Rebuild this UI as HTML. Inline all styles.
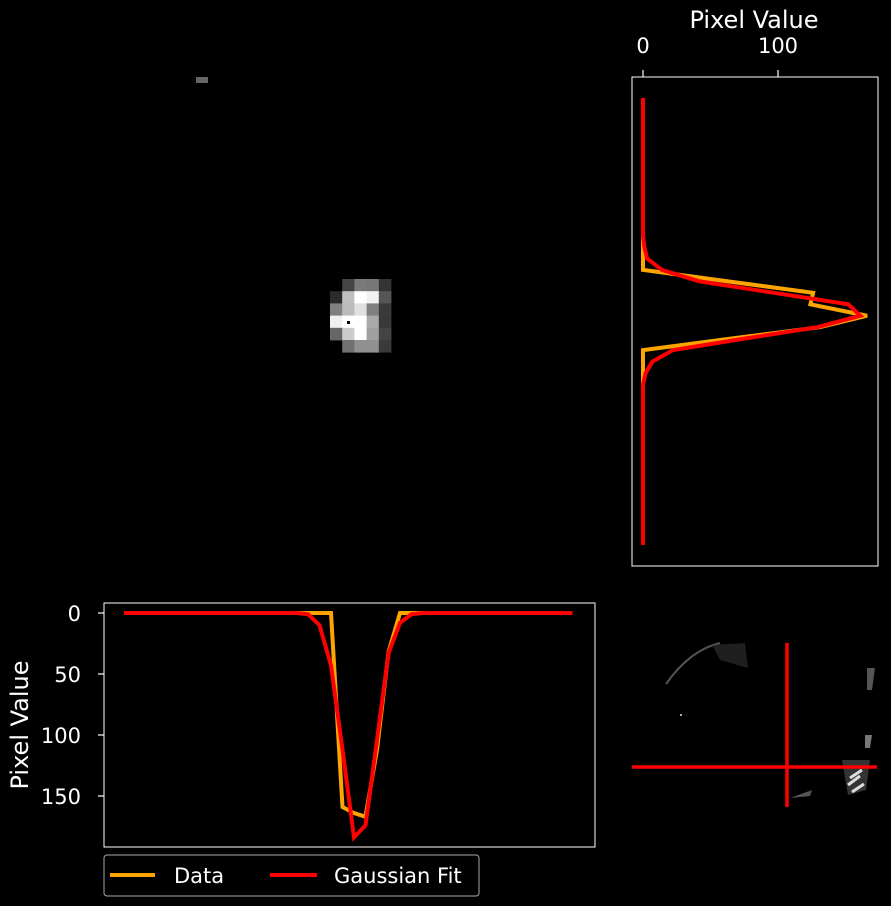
<!DOCTYPE html>
<html><head><meta charset="utf-8"><style>
html,body{margin:0;padding:0;background:#000;width:891px;height:906px;overflow:hidden}
svg{display:block;font-family:"DejaVu Sans","Liberation Sans",sans-serif}
</style></head><body>
<svg id="fig" width="891" height="906" viewBox="0 0 891 906">
<rect width="891" height="906" fill="#000"/>
<g id="main">
  <rect x="196" y="77" width="12" height="6" fill="#666"/>
  <g id="blob"></g>
  <rect x="347" y="321" width="3" height="3" fill="#000"/>
</g>
<g id="right"></g>
<g id="bottom"></g>
<g>
  <path d="M666,684 Q690,650 720,643" stroke="#777" stroke-width="2" fill="none" opacity="0.7"/>
  <path d="M712,645 L745,643 L748,668 L720,660Z" fill="#333" opacity="0.6"/>
  <path d="M867,668 L875,668 L872,690 L867,690Z" fill="#555"/>
  <path d="M865,735 L872,735 L870,748 L865,748Z" fill="#777"/>
  <path d="M842,760 L870,760 L866,790 L848,795Z" fill="#333"/>
  <path d="M850,778 L862,770 M848,785 L860,776 M852,792 L864,784" stroke="#ddd" stroke-width="3"/>
  <path d="M790,798 L812,790 L810,796Z" fill="#555"/>
  <rect x="680" y="714" width="2" height="2" fill="#aaa"/>
  <line x1="787" y1="643" x2="787" y2="807" stroke="#f00" stroke-width="3.5"/>
  <line x1="632" y1="767" x2="877" y2="767" stroke="#f00" stroke-width="3.5"/>
</g>
<g>
  <rect x="104" y="855" width="375" height="41" rx="3" fill="#000" stroke="#aaa" stroke-width="1"/>
  <line x1="110" y1="875" x2="155" y2="875" stroke="#ffa500" stroke-width="4"/>
  <text x="174" y="883" fill="#fff" font-size="21">Data</text>
  <line x1="270" y1="875" x2="317" y2="875" stroke="#f00" stroke-width="4"/>
  <text x="334" y="883" fill="#fff" font-size="21">Gaussian Fit</text>
</g>
</svg>
<script>
const blobShades=[
 [0,0x44,0x7a,0x77,0x33],
 [0x2a,0xc0,0xff,0xf2,0x55],
 [0x80,0xbb,0xe0,0x80,0x3a],
 [0xf0,0xff,0xff,0xaa,0x38],
 [0x66,0xcc,0xff,0xa0,0x44],
 [0,0x70,0x90,0x90,0x3a]];
const hIndex=[];for(let i=0;i<40;i++)hIndex.push(i);
const hData=[0,0,0,0,0,0,0,0,0,0,0,0,0,0,0,0,0,0,0,159,164,167,112,32,0,0,0,0,0,0,0,0,0,0,0,0,0,0,0,0];
const hFit=[0,0,0,0,0,0,0,0,0,0,0,0,0,0,0,0,1,10,43,112,184,174,104,33,8,1,0,0,0,0,0,0,0,0,0,0,0,0,0,0];
const vData=[0,0,0,0,0,0,0,0,0,0,0,0,0,0,0,0,63,126,124,166,131,65,0,0,0,0,0,0,0,0,0,0,0,0,0,0,0,0,0,0];
const vFit=[0,0,0,0,0,0,0,0,0,0,0,0,0,1,3,14,42,97,152,161,129,75,22,7,2,0,0,0,0,0,0,0,0,0,0,0,0,0,0,0];
const hTicks=[0,50,100,150];
const vTicks=[0,100];
const NS='http://www.w3.org/2000/svg';
function mk(tag,attrs,parent){const e=document.createElementNS(NS,tag);for(const k in attrs)e.setAttribute(k,attrs[k]);parent.appendChild(e);return e;}
const blob=document.getElementById('blob');
blobShades.forEach((row,r)=>row.forEach((v,c)=>{if(!v)return;const h=v.toString(16).padStart(2,'0');
 const e=mk('rect',{x:330+c*12.2,y:279+r*12.2,width:12.6,height:12.6,fill:'#'+h+h+h},blob);
 
 }));
const B=document.getElementById('bottom');
const bx=i=>124+i*11.5, by=v=>613+v*1.22;
mk('rect',{x:104,y:603,width:491,height:244,fill:'none',stroke:'#fff','stroke-width':1},B);
hTicks.forEach(t=>{mk('line',{x1:98,x2:104,y1:by(t),y2:by(t),stroke:'#fff','stroke-width':1.2},B);
 const tx=mk('text',{x:81,y:by(t)+8,fill:'#fff','font-size':21,'text-anchor':'end'},B);tx.textContent=t;
 
 });
const yl=mk('text',{x:0,y:0,fill:'#fff','font-size':24,'text-anchor':'middle',transform:'translate(28,725) rotate(-90)'},B);yl.textContent='Pixel Value';


function line(arr,xf,yf,col,par,name){const p=mk('polyline',{points:arr.map((v,i)=>xf(i,v)+','+yf(i,v)).join(' '),fill:'none',stroke:col,'stroke-width':4,'stroke-linejoin':'miter'},par);
 
 }
line(hData,(i)=>bx(hIndex[i]),(i,v)=>by(v),'#ffa500',B,'data-line-horizontal');
line(hFit,(i)=>bx(hIndex[i]),(i,v)=>by(v),'#f00',B,'fit-line-horizontal');
const R=document.getElementById('right');
const rx=v=>643+v*1.35, ry=j=>98+j*11.46;
mk('rect',{x:632,y:77,width:246,height:489,fill:'none',stroke:'#fff','stroke-width':1},R);
vTicks.forEach(t=>{mk('line',{x1:rx(t),x2:rx(t),y1:70,y2:77,stroke:'#fff','stroke-width':1.2},R);
 const tx=mk('text',{x:rx(t),y:53,fill:'#fff','font-size':21,'text-anchor':'middle'},R);tx.textContent=t;
 
 });
const xl=mk('text',{x:754,y:28,fill:'#fff','font-size':24,'text-anchor':'middle'},R);xl.textContent='Pixel Value';


line(vData,(i,v)=>rx(v),(i)=>ry(hIndex[i]),'#ffa500',R,'data-line-vertical');
line(vFit,(i,v)=>rx(v),(i)=>ry(hIndex[i]),'#f00',R,'fit-line-vertical');
</script>
</body></html>
